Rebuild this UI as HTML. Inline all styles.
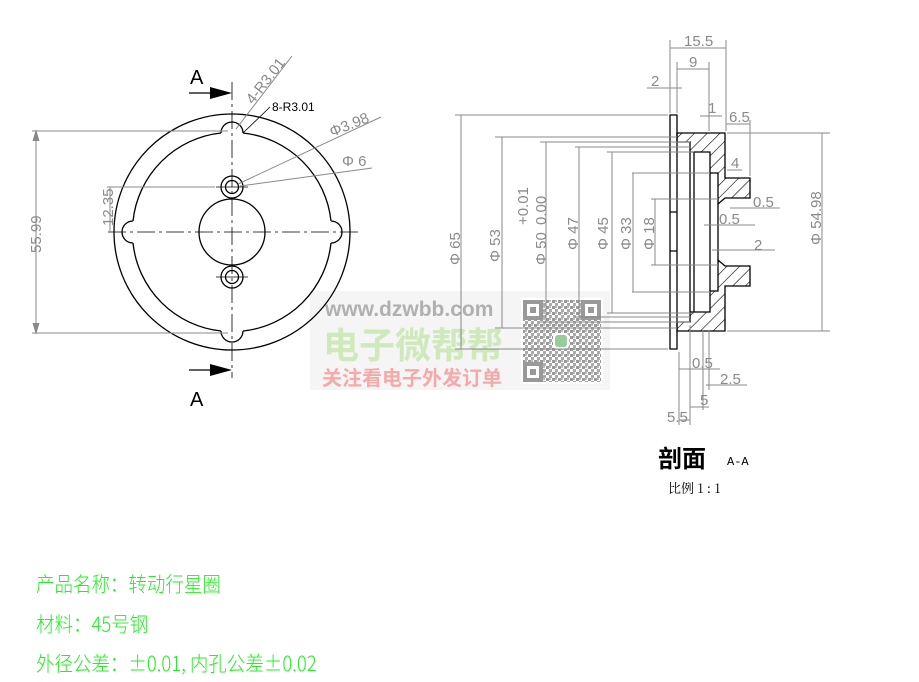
<!DOCTYPE html>
<html><head><meta charset="utf-8"><style>
html,body{margin:0;padding:0;background:#fff;}
svg{display:block;}
.d{stroke:#888;stroke-width:1;fill:none;}
.t{fill:#8a8a8a;font-family:"Liberation Sans","DejaVu Sans",sans-serif;font-size:15px;}
.k{stroke:#000;stroke-width:1.3;fill:none;}
.c{stroke:#000;stroke-width:0.8;fill:none;stroke-dasharray:18,4,3,4;}
.g{fill:#22ee22;font-family:"Noto Sans CJK SC",sans-serif;font-size:18.5px;font-weight:300;}
</style></head><body>
<svg width="919" height="682" viewBox="0 0 919 682" xmlns="http://www.w3.org/2000/svg">
<defs>
<pattern id="h" width="9" height="9" patternUnits="userSpaceOnUse" patternTransform="rotate(45)">
<line x1="0" y1="0" x2="0" y2="9" stroke="#000" stroke-width="1.2"/></pattern>
<pattern id="q" width="6" height="6" patternUnits="userSpaceOnUse">
<rect x="0" y="0" width="3" height="3" fill="#999"/><rect x="3" y="3" width="3" height="3" fill="#aaa"/><rect x="3" y="0" width="2" height="2" fill="#bbb"/></pattern>
</defs>

<!-- watermark -->
<rect x="310" y="291" width="300" height="99" fill="#f5f5f5"/>
<text x="325" y="316" font-family="Liberation Sans,sans-serif" font-size="21" font-weight="bold" fill="#b0b0b0">www.dzwbb.com</text>
<text x="323" y="358" font-family="Noto Sans CJK SC,sans-serif" font-size="36" font-weight="bold" fill="#cfe9bb">电子微帮帮</text>
<text x="322" y="385" font-family="Noto Sans CJK SC,sans-serif" font-size="20" font-weight="bold" fill="#f5a9a9">关注看电子外发订单</text>
<rect x="521" y="298" width="82" height="86" fill="#fff"/>
<rect x="523" y="300" width="78" height="82" fill="url(#q)"/>
<g fill="#999">
<rect x="523" y="300" width="20" height="20"/><rect x="581" y="300" width="20" height="20"/><rect x="523" y="362" width="20" height="20"/>
</g>
<g fill="#fff"><rect x="527" y="304" width="12" height="12"/><rect x="585" y="304" width="12" height="12"/><rect x="527" y="366" width="12" height="12"/></g>
<g fill="#999"><rect x="530" y="307" width="6" height="6"/><rect x="588" y="307" width="6" height="6"/><rect x="530" y="369" width="6" height="6"/></g>
<rect x="553" y="333" width="16" height="16" rx="4" fill="#fff"/>
<rect x="555" y="335" width="12" height="12" rx="3" fill="#9c9"/>

<!-- LEFT VIEW -->
<circle cx="232" cy="232" r="118" class="k" stroke-width="1"/>
<path class="k" stroke-width="1" d="M243,133 A99,99 0 0 1 331,221 M331,243 A99,99 0 0 1 243,331 M221,331 A99,99 0 0 1 133,243 M133,221 A99,99 0 0 1 221,133"/>
<path class="k" stroke-width="1" d="M221,133 A11,11 0 0 1 243,133 M331,221 A11,11 0 0 1 331,243 M243,331 A11,11 0 0 1 221,331 M133,243 A11,11 0 0 1 133,221"/>
<circle cx="232" cy="232" r="33" class="k" stroke-width="1"/>
<circle cx="232" cy="187" r="11" class="k" stroke-width="1"/><circle cx="232" cy="187" r="6.5" class="k" stroke-width="1"/>
<circle cx="232" cy="277" r="11" class="k" stroke-width="1"/><circle cx="232" cy="277" r="6.5" class="k" stroke-width="1"/>
<line x1="232" y1="82" x2="232" y2="378" class="c"/>
<line x1="108" y1="232" x2="360" y2="232" class="c"/>
<line x1="216" y1="187" x2="248" y2="187" stroke="#000" stroke-width=".8"/>
<line x1="216" y1="277" x2="248" y2="277" stroke="#000" stroke-width=".8"/>
<line x1="189" y1="93" x2="212" y2="93" stroke="#000" stroke-width="1.2"/><path d="M210,87 L232,93 L210,99z" fill="#000"/>
<line x1="189" y1="370" x2="212" y2="370" stroke="#000" stroke-width="1.2"/><path d="M210,364 L232,370 L210,376z" fill="#000"/>
<text x="190" y="84" font-family="Liberation Sans,sans-serif" font-size="20">A</text>
<text x="190" y="406" font-family="Liberation Sans,sans-serif" font-size="20">A</text>
<line x1="32" y1="131" x2="228" y2="131" class="d"/><line x1="32" y1="333" x2="228" y2="333" class="d"/>
<line x1="36" y1="131" x2="36" y2="333" class="d"/>
<path d="M33,141 L36,131 L39,141 M33,323 L36,333 L39,323" stroke="#888" fill="#888"/>
<text class="t" transform="translate(41,253) rotate(-90)">55.99</text>
<line x1="107" y1="187" x2="215" y2="187" class="d"/>
<line x1="110" y1="187" x2="110" y2="232" class="d"/>
<text class="t" transform="translate(113,226) rotate(-90)">12.35</text>
<line x1="236" y1="129" x2="292" y2="56" class="d"/>
<text class="t" transform="translate(253,105) rotate(-52)">4-R3.01</text>
<line x1="243" y1="133" x2="270" y2="107" stroke="#000" stroke-width=".8"/>
<text x="272" y="111" font-family="Liberation Sans,sans-serif" font-size="12">8-R3.01</text>
<line x1="238" y1="184" x2="381" y2="117" class="d"/>
<text class="t" transform="translate(332,137) rotate(-22)">Φ3.98</text>
<line x1="240" y1="186" x2="372" y2="168" class="d"/>
<text class="t" x="342" y="166">Φ 6</text>

<!-- SECTION VIEW -->
<g stroke="#000" stroke-width="1.3">
<path fill="url(#h)" d="M677,133 L725,133 L725,178 L750,178 L750,198 L725,198 L718,204 L718,173 L710,173 L710,152 L690,152 L690,142 L677,142Z"/>
<path fill="url(#h)" d="M677,331 L725,331 L725,286 L750,286 L750,266 L725,266 L718,260 L718,291 L710,291 L710,312 L690,312 L690,322 L677,322Z"/>
<path fill="none" d="M670,115 L677,115 L677,349 L670,349 Z M670,212 L677,212 L677,251 L670,251 M718,204 L718,260 M690,152 L690,312 M694,152 L694,312 M710,173 L710,291"/>
</g>
<g class="d">
<line x1="455" y1="115" x2="668" y2="115"/><line x1="455" y1="349" x2="668" y2="349"/><line x1="461" y1="115" x2="461" y2="349"/>
<line x1="495" y1="137" x2="677" y2="137"/><line x1="495" y1="328" x2="677" y2="328"/><line x1="502" y1="137" x2="502" y2="328"/>
<line x1="540" y1="142" x2="690" y2="142"/><line x1="540" y1="322" x2="690" y2="322"/><line x1="546" y1="142" x2="546" y2="322"/>
<line x1="575" y1="147" x2="690" y2="147"/><line x1="575" y1="317" x2="690" y2="317"/><line x1="579" y1="147" x2="579" y2="317"/>
<line x1="607" y1="152" x2="694" y2="152"/><line x1="607" y1="313" x2="694" y2="313"/><line x1="612" y1="152" x2="612" y2="313"/>
<line x1="632" y1="173" x2="710" y2="173"/><line x1="632" y1="292" x2="710" y2="292"/><line x1="633" y1="173" x2="633" y2="292"/>
<line x1="651" y1="199" x2="718" y2="199"/><line x1="651" y1="265" x2="718" y2="265"/><line x1="655" y1="199" x2="655" y2="265"/>
<line x1="727" y1="133" x2="830" y2="133"/><line x1="727" y1="331" x2="830" y2="331"/><line x1="822" y1="133" x2="822" y2="331"/>
</g>
<text class="t" transform="translate(460,265) rotate(-90)">Φ 65</text>
<text class="t" transform="translate(500,262) rotate(-90)">Φ 53</text>
<text class="t" transform="translate(528,225) rotate(-90)">+0.01</text>
<text class="t" transform="translate(546,225) rotate(-90)">0.00</text>
<text class="t" transform="translate(546,265) rotate(-90)">Φ 50</text>
<text class="t" transform="translate(578,250) rotate(-90)">Φ 47</text>
<text class="t" transform="translate(608,250) rotate(-90)">Φ 45</text>
<text class="t" transform="translate(631,250) rotate(-90)">Φ 33</text>
<text class="t" transform="translate(654,250) rotate(-90)">Φ 18</text>
<text class="t" transform="translate(821,245) rotate(-90)">Φ 54.98</text>
<g class="d">
<line x1="670" y1="40" x2="670" y2="113"/><line x1="726" y1="40" x2="726" y2="131"/><line x1="670" y1="48" x2="726" y2="48"/>
<line x1="677" y1="62" x2="677" y2="113"/><line x1="709" y1="62" x2="709" y2="131"/><line x1="677" y1="69" x2="709" y2="69"/>
<line x1="647" y1="88" x2="682" y2="88"/>
<line x1="700" y1="116" x2="722" y2="116"/>
<line x1="726" y1="124" x2="750" y2="124"/><line x1="750" y1="120" x2="750" y2="176"/>
<line x1="727" y1="170" x2="742" y2="170"/>
<line x1="730" y1="208" x2="780" y2="208"/>
<line x1="704" y1="225" x2="755" y2="225"/>
<line x1="712" y1="250" x2="775" y2="250"/>
<line x1="679" y1="352" x2="679" y2="425"/><line x1="690" y1="325" x2="690" y2="425"/><line x1="703" y1="330" x2="703" y2="410"/><line x1="709" y1="330" x2="709" y2="390"/>
<line x1="679" y1="420" x2="690" y2="420"/><line x1="690" y1="407" x2="709" y2="407"/>
<line x1="679" y1="369" x2="720" y2="369"/><line x1="706" y1="385" x2="747" y2="385"/>
</g>
<text class="t" x="684" y="46">15.5</text>
<text class="t" x="689" y="67">9</text>
<text class="t" x="651" y="86">2</text>
<text class="t" x="708" y="113">1</text>
<text class="t" x="729" y="122">6.5</text>
<text class="t" x="731" y="168">4</text>
<text class="t" x="753" y="207">0.5</text>
<text class="t" x="719" y="224">0.5</text>
<text class="t" x="754" y="250">2</text>
<text class="t" x="692" y="368">0.5</text>
<text class="t" x="720" y="384">2.5</text>
<text class="t" x="700" y="405">5</text>
<text class="t" x="667" y="422">5.5</text>

<text x="658" y="467" font-family="Noto Sans CJK SC,sans-serif" font-size="24" font-weight="bold">剖面</text>
<text x="727" y="465" font-family="Liberation Mono,monospace" font-size="12">A-A</text>
<text x="668" y="493" font-family="Noto Serif CJK SC,serif" font-size="13">比例 1 : 1</text>

<g transform="scale(1,1.12)">
<text class="g" x="36" y="528">产品名称：转动行星圈</text>
<text class="g" x="36" y="564">材料：45号钢</text>
<text class="g" x="36" y="599">外径公差：±0.01, 内孔公差±0.02</text>
</g>
</svg>
</body></html>
